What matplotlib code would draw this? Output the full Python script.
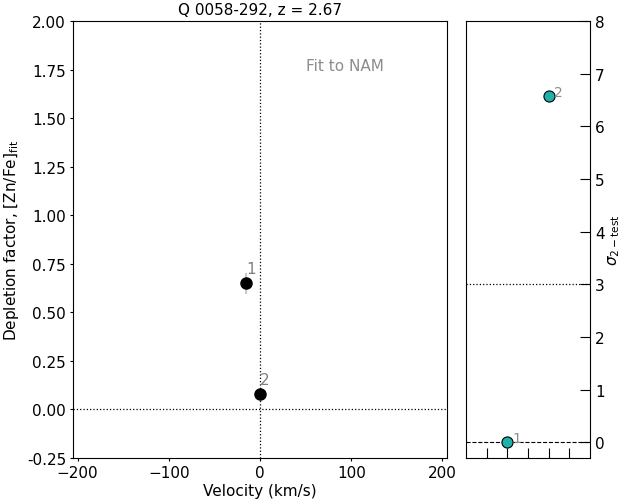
import matplotlib
matplotlib.use('Agg')
import matplotlib.pyplot as plt

# components
comp_labels = ['1', '2']
velocity = [-15, 0]
depletion = [0.65, 0.08]
depletion_err = [0.055, 0.0]
comp_index = [2, 4]
sigma_test = [0.0, 6.58]

plt.rcParams['font.size'] = 11

fig = plt.figure(figsize=(6.21, 5.02), dpi=100)
ax = fig.add_axes([0.1176, 0.0857, 0.6023, 0.8705])
ax2 = fig.add_axes([0.7504, 0.0857, 0.1997, 0.8705])

# left panel: depletion vs velocity
ax.axvline(0, color='k', ls=':', lw=0.9)
ax.axhline(0, color='k', ls=':', lw=0.9)
for v, d, e, lab in zip(velocity, depletion, depletion_err, comp_labels):
    if e > 0:
        ax.errorbar(v, d, yerr=e, fmt='none', ecolor='0.75', elinewidth=1.2, zorder=2)
    ax.plot(v, d, 'o', color='k', ms=8, zorder=3)
    ax.annotate(lab, (v, d), xytext=(0, 7), textcoords='offset points',
                color='0.5', fontsize=11)
ax.text(50, 1.77, 'Fit to NAM', color='0.55', fontsize=11, va='center')
ax.set_xlim(-205, 205)
ax.set_ylim(-0.25, 2.0)
ax.set_xticks([-200, -100, 0, 100, 200])
ax.set_yticks([-0.25, 0, 0.25, 0.5, 0.75, 1.0, 1.25, 1.5, 1.75, 2.0])
ax.set_yticklabels(['%.2f' % t for t in ax.get_yticks()])
ax.tick_params(length=2.5, pad=2.5)
ax.set_xlabel('Velocity (km/s)', labelpad=2)
ax.set_ylabel('Depletion factor, [Zn/Fe]$_{\\rm fit}$')
ax.set_title('Q 0058-292, z = 2.67', fontsize=11, pad=5)

# right panel: sigma test per component
ax2.axhline(3, color='k', ls=':', lw=0.9)
ax2.axhline(0, color='k', ls='--', lw=0.8)
for c, s, lab in zip(comp_index, sigma_test, comp_labels):
    ax2.plot(c, s, 'o', color='lightseagreen', mec='k', mew=0.8, ms=8, zorder=3)
    ax2.annotate(lab, (c, s), xytext=(4, 0), textcoords='offset points',
                 color='0.55', fontsize=10)
ax2.set_xlim(0, 6)
ax2.set_ylim(-0.3, 8)
ax2.set_xticks([1, 2, 3, 4, 5])
ax2.set_xticklabels([])
ax2.tick_params(axis='x', direction='in', length=7)
ax2.yaxis.tick_right()
ax2.yaxis.set_label_position('right')
ax2.tick_params(axis='y', direction='in', length=7)
ax2.set_yticks(range(0, 9))
ax2.set_ylabel('$\\sigma_{2-{\\rm test}}$', labelpad=1)

fig.savefig('out.png', dpi=100)
